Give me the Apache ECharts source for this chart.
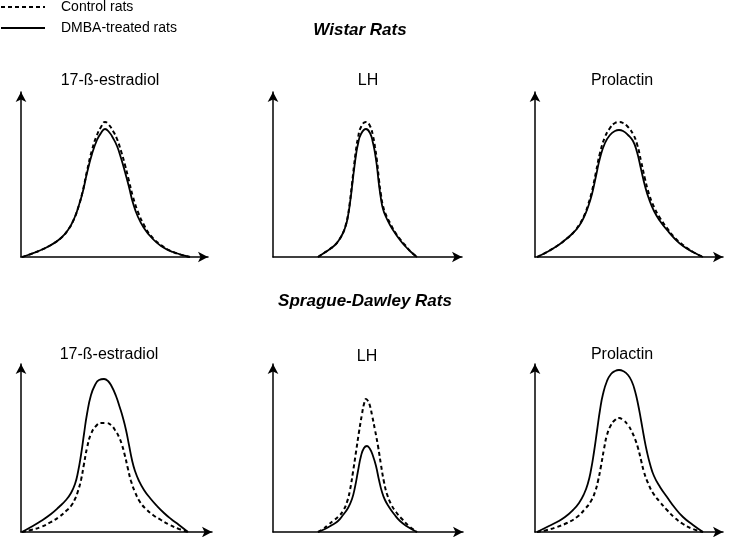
<!DOCTYPE html>
<html>
<head>
<meta charset="utf-8">
<script src="https://cdn.jsdelivr.net/npm/echarts@6/dist/echarts.min.js"></script>
<style>
html,body{margin:0;padding:0;background:#fff;}
#chart{width:731px;height:537px;}
</style>
</head>
<body>
<div id="chart"></div>
<script>
// ---- DATA (arbitrary units; x = time, y = hormone level) ----
const panelTitles = ['17-ß-estradiol', 'LH', 'Prolactin', '17-ß-estradiol', 'LH', 'Prolactin'];
const groupTitles = ['Wistar Rats', 'Sprague-Dawley Rats'];
const seriesNames = ['Control rats', 'DMBA-treated rats'];

// Wistar – 17-ß-estradiol
const wE2X     = [1, 10, 20, 30, 40, 47, 53, 58, 62, 66, 71, 76, 80, 84, 88, 92, 96, 100, 104, 108, 112, 117, 123, 130, 140, 152, 169];
const wE2CtrlY = [0, 3, 7, 12, 19, 27, 38, 52, 67, 86, 107, 122, 130, 135, 132, 126, 118, 106, 92, 76, 60, 45, 32, 21, 12, 5, 0];
const wE2DmbaY = [0, 3, 7, 12, 19, 27, 38, 52, 66, 84, 103, 117, 124, 128, 125, 119, 111, 99, 85, 70, 54, 40, 29, 20, 11, 5, 0];

// Wistar – LH
const wLhX     = [45, 51, 57, 62, 66, 70, 73, 75, 77, 79, 81, 83, 85, 88, 93, 97, 100, 102, 104, 106, 108, 110, 113, 117, 122, 127, 132, 138, 144];
const wLhCtrlY = [0, 4, 8, 12, 17, 24, 33, 42, 56, 73, 91, 107, 119, 130, 135, 131, 121, 110, 96, 77, 62, 51, 42, 34, 25, 18, 12, 5, 0];
const wLhDmbaY = [0, 4, 8, 12, 17, 24, 32, 41, 54, 70, 87, 102, 113, 123, 128, 124, 114, 104, 90, 72, 58, 48, 40, 32, 24, 17, 11, 5, 0];

// Wistar – Prolactin
const wPrlX     = [2, 12, 22, 30, 38, 44, 49, 53, 57, 61, 65, 70, 75, 80, 84, 88, 93, 98, 102, 106, 110, 114, 119, 125, 132, 140, 148, 158, 168];
const wPrlCtrlY = [0, 5, 11, 17, 24, 32, 41, 52, 66, 85, 104, 120, 129, 134, 135, 134, 130, 123, 113, 96, 78, 63, 50, 39, 29, 19, 12, 5, 0];
const wPrlDmbaY = [0, 5, 11, 17, 24, 31, 40, 50, 63, 81, 99, 114, 122, 126, 127, 126, 122, 116, 105, 88, 71, 58, 46, 36, 27, 18, 11, 5, 0];

// Sprague-Dawley – 17-ß-estradiol
const sdE2CtrlX = [1, 10, 20, 30, 38, 45, 50, 54, 57, 60, 63, 66, 70, 75, 80, 85, 90, 94, 98, 101, 104, 107, 110, 114, 119, 125, 132, 140, 149, 158, 167];
const sdE2CtrlY = [0, 2, 5, 10, 15, 21, 26, 33, 41, 52, 68, 84, 98, 106, 109, 109, 107, 102, 95, 87, 76, 63, 51, 40, 30, 23, 17, 12, 7, 3, 0];
const sdE2DmbaX = [1, 10, 20, 30, 38, 45, 50, 54, 57, 60, 63, 66, 70, 74, 78, 83, 87, 91, 95, 99, 102, 105, 108, 111, 114, 118, 123, 129, 136, 143, 150, 158, 167];
const sdE2DmbaY = [0, 5, 11, 18, 25, 32, 39, 48, 60, 77, 98, 118, 137, 147, 152, 153, 151, 145, 136, 124, 114, 102, 87, 72, 61, 51, 42, 34, 26, 19, 13, 7, 0];

// Sprague-Dawley – LH
const sdLhCtrlX = [45, 50, 55, 60, 65, 70, 74, 77, 80, 83, 86, 89, 91, 93, 95, 97, 99, 102, 105, 108, 111, 114, 118, 123, 129, 136, 144];
const sdLhCtrlY = [0, 3, 7, 11, 15, 21, 30, 42, 60, 80, 100, 118, 128, 133, 131, 126, 117, 102, 86, 67, 50, 38, 28, 20, 13, 6, 0];
const sdLhDmbaX = [45, 52, 59, 65, 70, 75, 79, 82, 85, 88, 91, 94, 97, 100, 103, 106, 109, 112, 116, 121, 127, 135, 144];
const sdLhDmbaY = [0, 3, 7, 11, 17, 24, 33, 45, 61, 76, 84, 86, 83, 76, 66, 52, 40, 32, 25, 18, 11, 5, 0];

// Sprague-Dawley – Prolactin
const sdPrlCtrlX = [2, 12, 22, 32, 42, 50, 56, 60, 63, 66, 69, 72, 76, 80, 84, 88, 93, 97, 100, 103, 106, 109, 113, 118, 125, 132, 140, 148, 158, 168];
const sdPrlCtrlY = [0, 2, 5, 9, 15, 23, 31, 40, 51, 66, 83, 97, 107, 112, 114, 112, 107, 100, 93, 84, 72, 60, 49, 39, 30, 22, 14, 8, 3, 0];
const sdPrlDmbaX = [2, 12, 22, 30, 38, 44, 49, 53, 56, 59, 62, 65, 68, 72, 76, 80, 84, 88, 93, 97, 100, 103, 106, 109, 112, 115, 119, 125, 132, 140, 148, 158, 168];
const sdPrlDmbaY = [0, 5, 10, 15, 22, 29, 38, 49, 62, 80, 101, 122, 138, 151, 158, 161, 162, 161, 157, 150, 141, 128, 112, 95, 80, 68, 56, 45, 35, 24, 15, 7, 0];

const panelData = [
  [[wE2X, wE2CtrlY], [wE2X, wE2DmbaY]],
  [[wLhX, wLhCtrlY], [wLhX, wLhDmbaY]],
  [[wPrlX, wPrlCtrlY], [wPrlX, wPrlDmbaY]],
  [[sdE2CtrlX, sdE2CtrlY], [sdE2DmbaX, sdE2DmbaY]],
  [[sdLhCtrlX, sdLhCtrlY], [sdLhDmbaX, sdLhDmbaY]],
  [[sdPrlCtrlX, sdPrlCtrlY], [sdPrlDmbaX, sdPrlDmbaY]]
];

// ---- LAYOUT (pixels) ----
const grids = [
  {left: 21,  top: 92,  width: 187, height: 165},
  {left: 273, top: 92,  width: 189, height: 165},
  {left: 535, top: 92,  width: 188, height: 165},
  {left: 21,  top: 364, width: 191, height: 168},
  {left: 273, top: 364, width: 190, height: 168},
  {left: 535, top: 364, width: 188, height: 168}
];
const titlePos = [[110, 81], [368, 81], [622, 81], [109, 355], [367, 357], [622, 355]];
const groupPos = [[360, 30], [365, 301]];
const FONT = '"Liberation Sans", Arial, Helvetica, sans-serif';

const zip = (xs, ys) => xs.map((x, i) => [x, ys[i]]);

const axisCommon = (idx, max) => ({
  gridIndex: idx, type: 'value', min: 0, max: max,
  axisLine: {show: true, onZero: false, symbol: ['none', 'arrow'], symbolSize: [8, 10],
             lineStyle: {color: '#000', width: 1.5}},
  axisTick: {show: false}, axisLabel: {show: false}, splitLine: {show: false}
});

const series = [];
panelData.forEach((pd, i) => {
  series.push({
    name: seriesNames[0], type: 'line', xAxisIndex: i, yAxisIndex: i,
    data: zip(pd[0][0], pd[0][1]), symbol: 'none', smooth: 0.5,
    lineStyle: {color: '#000', width: 2, type: [4, 3]}, itemStyle: {color: '#000'}, z: 3
  });
  series.push({
    name: seriesNames[1], type: 'line', xAxisIndex: i, yAxisIndex: i,
    data: zip(pd[1][0], pd[1][1]), symbol: 'none', smooth: 0.5,
    lineStyle: {color: '#000', width: 1.8, type: 'solid'}, itemStyle: {color: '#000'}, z: 2
  });
});

const graphics = [];
panelTitles.forEach((t, i) => {
  graphics.push({type: 'text', x: titlePos[i][0], y: titlePos[i][1],
    style: {text: t, fill: '#000', font: '16px ' + FONT, align: 'center', verticalAlign: 'middle'}});
});
groupTitles.forEach((t, i) => {
  graphics.push({type: 'text', x: groupPos[i][0], y: groupPos[i][1],
    style: {text: t, fill: '#000', font: 'italic bold 17px ' + FONT, align: 'center', verticalAlign: 'middle'}});
});

const chart = echarts.init(document.getElementById('chart'), null, {renderer: 'canvas'});
chart.setOption({
  animation: false,
  backgroundColor: '#fff',
  legend: {
    data: seriesNames, orient: 'vertical', left: 0, top: 0, padding: 0,
    itemWidth: 44, itemHeight: 12, itemGap: 7, selectedMode: false,
    itemStyle: {opacity: 0},
    textStyle: {fontSize: 14, fontFamily: FONT, color: '#000', padding: [0, 0, 0, 11]}
  },
  grid: grids.map(g => Object.assign({containLabel: false}, g)),
  xAxis: grids.map((g, i) => axisCommon(i, g.width)),
  yAxis: grids.map((g, i) => axisCommon(i, g.height)),
  series: series,
  graphic: graphics
});
</script>
</body>
</html>
